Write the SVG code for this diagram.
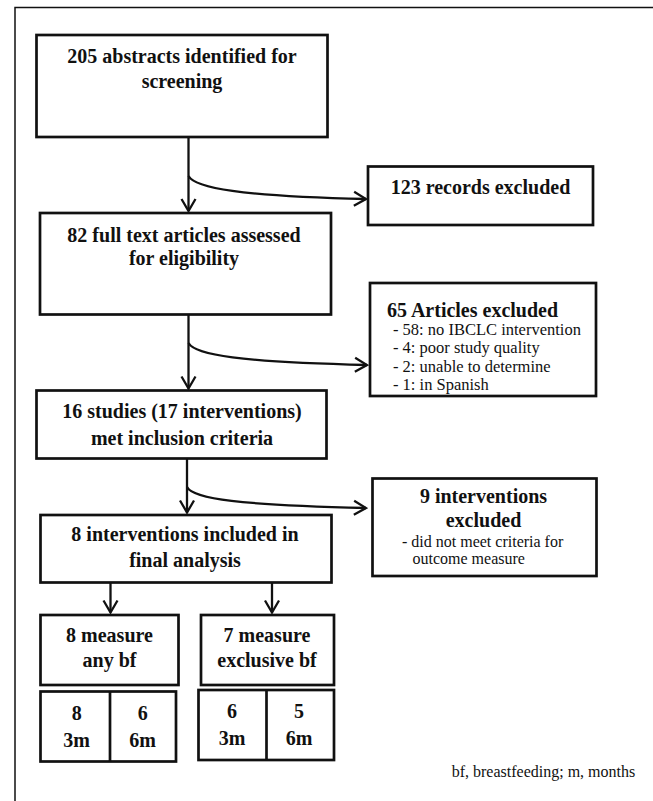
<svg xmlns="http://www.w3.org/2000/svg" width="653" height="801" viewBox="0 0 653 801" font-family="'Liberation Serif', 'Times New Roman', Times, serif">
<style>
.box{fill:#fff;stroke:#111;stroke-width:2.7}
.frame{fill:none;stroke:#111;stroke-width:1.5}
.con{fill:none;stroke:#111;stroke-width:2.3}
text{font-family:'Liberation Serif','Times New Roman',Times,serif;fill:#111}
.b{font-weight:bold;font-size:20px}
.r{font-weight:normal;font-size:16.5px}
.c{text-anchor:middle}
</style>
<defs>
<marker id="arr" markerUnits="userSpaceOnUse" viewBox="-14 -9 16 18" refX="0" refY="0" markerWidth="16" markerHeight="18" orient="auto">
<path d="M-12,-7 L0,0 L-12,7" fill="none" stroke="#111" stroke-width="2.3"/>
</marker>
</defs>
<rect width="653" height="801" fill="#fff"/>
<path class="frame" d="M15,801 V7.5 H653"/>
<g id="connectors">
<path class="con" d="M188.5,137 V211" marker-end="url(#arr)"/>
<path class="con" d="M188.5,176 C195,188 240,196 366,199" marker-end="url(#arr)"/>
<path class="con" d="M188.5,315 V388.5" marker-end="url(#arr)"/>
<path class="con" d="M188.5,343 C195,355 240,362 367,365" marker-end="url(#arr)"/>
<path class="con" d="M187,459 V512.5" marker-end="url(#arr)"/>
<path class="con" d="M187,487 C193,499 240,505 366,508" marker-end="url(#arr)"/>
<path class="con" d="M110.5,583 V612.5" marker-end="url(#arr)"/>
<path class="con" d="M272,583 V612.5" marker-end="url(#arr)"/>
</g>
<g id="n1">
<rect class="box" x="36.5" y="35" width="291" height="102"/>
<text class="b c" x="182" y="62.5">205 abstracts identified for</text>
<text class="b c" x="182" y="88">screening</text>
</g>
<g id="n123">
<rect class="box" x="368" y="166.5" width="225" height="58.5"/>
<text class="b c" x="480.5" y="194">123 records excluded</text>
</g>
<g id="n2">
<rect class="box" x="40" y="213" width="291" height="101.5"/>
<text class="b c" x="184" y="241.5">82 full text articles assessed</text>
<text class="b c" x="184" y="265">for eligibility</text>
</g>
<g id="n65">
<rect class="box" x="370" y="283" width="226" height="113"/>
<text class="b" x="387" y="316.5">65 Articles excluded</text>
<text class="r" x="393" y="334.5">- 58: no IBCLC intervention</text>
<text class="r" x="393" y="353.2">- 4: poor study quality</text>
<text class="r" x="393" y="371.8">- 2: unable to determine</text>
<text class="r" x="393" y="390.3">- 1: in Spanish</text>
</g>
<g id="n3">
<rect class="box" x="36.5" y="390.5" width="290" height="68"/>
<text class="b c" x="182" y="418.3">16 studies (17 interventions)</text>
<text class="b c" x="182" y="445">met inclusion criteria</text>
</g>
<g id="n9">
<rect class="box" x="372.5" y="478.5" width="224" height="97.5"/>
<text class="b c" x="483.5" y="503.3">9 interventions</text>
<text class="b c" x="483.5" y="526.7">excluded</text>
<text class="r" x="402" y="546.7" style="font-size:16px">- did not meet criteria for</text>
<text class="r" x="412.5" y="563.5" style="font-size:16px">outcome measure</text>
</g>
<g id="n4">
<rect class="box" x="40.5" y="515" width="291" height="67.5"/>
<text class="b c" x="185" y="540.5">8 interventions included in</text>
<text class="b c" x="185" y="567">final analysis</text>
</g>
<g id="nany">
<rect class="box" x="40.5" y="615" width="138" height="70"/>
<text class="b c" x="109.5" y="641.7">8 measure</text>
<text class="b c" x="109.5" y="666.7">any bf</text>
</g>
<g id="nexcl">
<rect class="box" x="201" y="615" width="133" height="70"/>
<text class="b c" x="267" y="641.7">7 measure</text>
<text class="b c" x="267" y="666.7">exclusive bf</text>
</g>
<g id="nanycells">
<rect class="box" x="40.5" y="691.5" width="135.5" height="70"/>
<path class="box" d="M110,691.5 V761.5"/>
<text class="b c" x="76.7" y="720">8</text>
<text class="b c" x="76.7" y="746.7">3m</text>
<text class="b c" x="142.7" y="720">6</text>
<text class="b c" x="142.7" y="746.7">6m</text>
</g>
<g id="nexclcells">
<rect class="box" x="198.5" y="690" width="135.5" height="70"/>
<path class="box" d="M266.5,690 V760"/>
<text class="b c" x="232" y="718">6</text>
<text class="b c" x="232" y="745">3m</text>
<text class="b c" x="299" y="718">5</text>
<text class="b c" x="299" y="745">6m</text>
</g>
<g id="footnote">
<text class="r" x="451.7" y="776.7" style="font-size:16px">bf, breastfeeding; m, months</text>
</g>
</svg>
